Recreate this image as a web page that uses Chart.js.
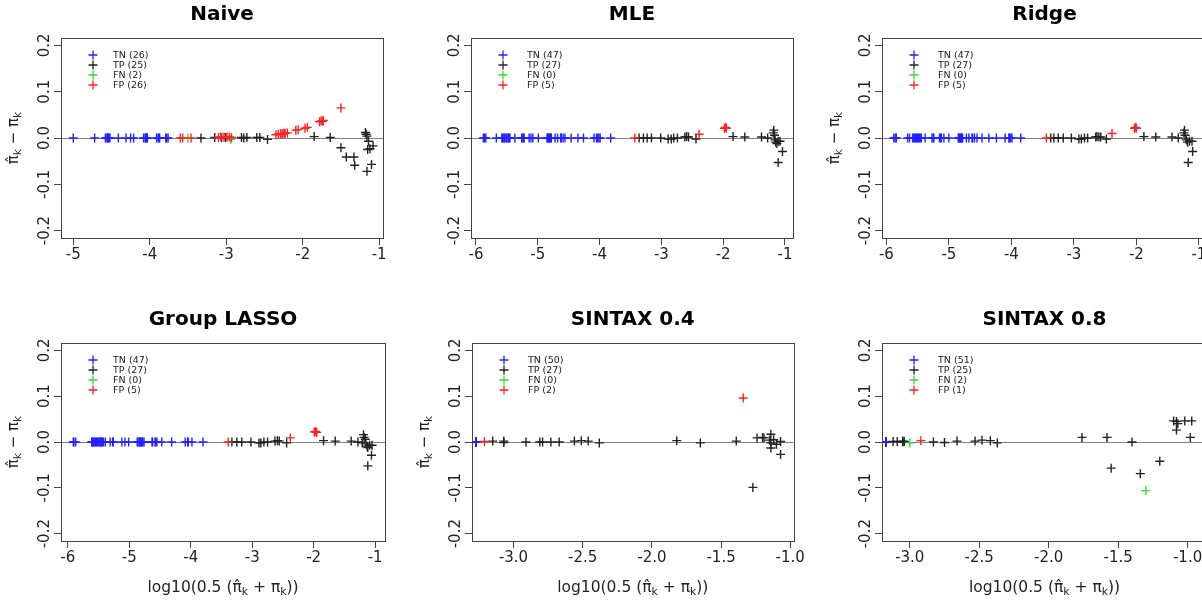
<!DOCTYPE html>
<html>
<head>
<meta charset="utf-8">
<script src="https://cdn.jsdelivr.net/npm/chart.js@4.4.0/dist/chart.umd.min.js"></script>
<style>
html,body{margin:0;padding:0;background:#fff;overflow:hidden;width:1202px;height:600px;position:relative;}
canvas{position:absolute;}
</style>
</head>
<body>
<script>
// ---- data: [log10(0.5(pihat+pi)), pihat - pi] per class ----
var naiveTN = [[-5.00,0],[-4.72,0],[-4.58,0],[-4.56,0],[-4.55,0],[-4.54,0],[-4.53,0],[-4.52,0],[-4.41,0],[-4.31,0],[-4.25,0],[-4.21,0],[-4.08,0],
  [-4.06,0],[-4.05,0],[-4.04,0],[-4.03,0],[-3.91,0],[-3.89,0],[-3.88,0],[-3.87,0],[-3.79,0],[-3.78,0],[-3.76,0],[-4.55,0],[-4.05,0]];
var naiveTP = [[-3.33,0],[-3.15,0.001],[-3.06,0.001],[-3.01,0.001],[-2.80,0.001],[-2.77,0],[-2.73,0.001],[-2.60,0.001],[-2.56,0.001],
  [-2.46,-0.003],[-1.85,0.003],[-1.64,0.001],[-1.50,-0.021],[-1.43,-0.041],[-1.33,-0.041],[-1.32,-0.059],[-1.18,0.012],[-1.17,0.008],
  [-1.16,0.004],[-1.14,-0.007],[-1.15,-0.025],[-1.12,-0.023],[-1.08,-0.017],[-1.10,-0.057],[-1.16,-0.072]];
var naiveFN = [[-3.50,0],[-2.94,-0.003]];
var naiveFP = [[-3.60,0],[-3.57,0],[-3.46,0],[-3.10,0.001],[-3.07,0.002],[-3.03,0.002],[-2.99,0.002],[-2.96,0.002],[-2.93,0.001],
  [-2.35,0.007],[-2.32,0.008],[-2.29,0.009],[-2.27,0.009],[-2.26,0.009],[-2.24,0.010],[-2.23,0.010],[-2.20,0.011],[-2.09,0.017],
  [-2.06,0.018],[-1.97,0.021],[-1.94,0.023],[-1.78,0.035],[-1.76,0.037],[-1.74,0.036],[-1.73,0.038],[-1.50,0.065]];
var naiveCounts = [26, 25, 2, 26];

var mleTN = [[-5.88,0],[-5.84,0],[-5.67,0],[-5.58,0],[-5.56,0],[-5.53,0],[-5.50,0],[-5.48,0],[-5.45,0],[-5.37,0],[-5.26,0],[-5.23,0],
  [-5.14,0],[-5.11,0],[-5.08,0],[-4.99,0],[-4.85,0],[-4.82,0],[-4.79,0],[-4.72,0],[-4.68,0],[-4.63,0],[-4.59,0],[-4.56,0],[-4.46,0],
  [-4.35,0],[-4.26,0],[-4.09,0],[-4.05,0],[-4.01,0],[-3.82,0],[-5.54,0],[-5.51,0],[-5.47,0],[-5.46,0],[-4.83,0],[-4.81,0],[-4.80,0],
  [-4.78,0],[-5.24,0],[-4.62,0],[-4.03,0],[-3.99,0],[-5.86,0],[-5.57,0],[-5.22,0],[-4.84,0]];
var mleTP = [[-3.36,0],[-3.29,0],[-3.23,0],[-3.16,0],[-3.01,0],[-2.89,-0.002],[-2.84,-0.002],[-2.80,0],[-2.74,0],[-2.62,0.002],
  [-2.59,0.003],[-2.56,0.002],[-2.44,-0.002],[-1.84,0.003],[-1.65,0.002],[-1.38,0.002],[-1.28,0],[-1.19,0.011],[-1.18,0.017],
  [-1.17,0.006],[-1.16,-0.004],[-1.15,-0.009],[-1.13,-0.012],[-1.11,-0.007],[-1.08,-0.007],[-1.04,-0.029],[-1.11,-0.053]];
var mleFN = [];
var mleFP = [[-3.43,0],[-2.39,0.008],[-1.98,0.021],[-1.96,0.023],[-1.95,0.021]];
var mleCounts = [47, 27, 0, 5];

var ridgeTN = [[-5.88,0],[-5.84,0],[-5.66,0],[-5.63,0],[-5.58,0],[-5.55,0],[-5.52,0],[-5.49,0],[-5.47,0],[-5.44,0],[-5.38,0],[-5.27,0],
  [-5.24,0],[-5.15,0],[-5.12,0],[-5.08,0],[-5.00,0],[-4.84,0],[-4.82,0],[-4.79,0],[-4.72,0],[-4.68,0],[-4.63,0],[-4.59,0],[-4.55,0],
  [-4.47,0],[-4.36,0],[-4.24,0],[-4.10,0],[-4.04,0],[-4.01,0],[-3.85,0],[-5.56,0],[-5.53,0],[-5.50,0],[-5.46,0],[-4.83,0],[-4.81,0],
  [-4.80,0],[-4.78,0],[-5.25,0],[-4.62,0],[-4.03,0],[-3.99,0],[-5.86,0],[-5.13,0],[-4.85,0]];
var ridgeTP = [[-3.37,0],[-3.32,0],[-3.25,0],[-3.17,0],[-3.04,0],[-2.92,-0.002],[-2.88,-0.002],[-2.83,0],[-2.78,0],[-2.65,0.002],
  [-2.63,0.003],[-2.60,0.002],[-2.57,0.002],[-2.48,-0.002],[-1.88,0.003],[-1.69,0.002],[-1.43,0.002],[-1.33,0],[-1.24,0.011],
  [-1.23,0.017],[-1.22,0.006],[-1.20,-0.004],[-1.18,-0.009],[-1.15,-0.007],[-1.11,-0.007],[-1.10,-0.029],[-1.17,-0.053]];
var ridgeFN = [];
var ridgeFP = [[-3.44,0],[-2.39,0.0096],[-2.03,0.021],[-2.01,0.023],[-2.00,0.021]];
var ridgeCounts = [47, 27, 0, 5];

var glassoTN = [[-5.91,0],[-5.87,0],[-5.61,0],[-5.58,0],[-5.56,0],[-5.53,0],[-5.50,0],[-5.47,0],[-5.45,0],[-5.42,0],[-5.39,0],[-5.31,0],
  [-5.26,0],[-5.12,0],[-5.07,0],[-5.01,0],[-4.87,0],[-4.84,0],[-4.81,0],[-4.79,0],[-4.76,0],[-4.63,0],[-4.58,0],[-4.55,0],[-4.47,0],
  [-4.31,0],[-4.09,0],[-4.04,0],[-3.98,0],[-3.80,0],[-5.59,0],[-5.55,0],[-5.52,0],[-5.49,0],[-5.46,0],[-5.44,0],[-4.86,0],[-4.83,0],
  [-4.80,0],[-4.78,0],[-5.27,0],[-4.62,0],[-4.57,0],[-4.05,0],[-5.90,0],[-5.60,0],[-4.82,0]];
var glassoTP = [[-3.33,0],[-3.25,0],[-3.17,0],[-3.02,0],[-2.89,-0.002],[-2.86,-0.002],[-2.81,0],[-2.75,0],[-2.63,0.002],[-2.59,0.003],
  [-2.56,0.002],[-2.44,-0.002],[-1.84,0.003],[-1.65,0.002],[-1.39,0.002],[-1.28,0],[-1.19,0.016],[-1.18,0.010],[-1.16,0.006],
  [-1.15,-0.004],[-1.13,-0.009],[-1.09,-0.007],[-1.05,-0.007],[-1.12,-0.012],[-1.06,-0.029],[-1.12,-0.052],[-1.21,-0.002]];
var glassoFN = [];
var glassoFP = [[-3.39,0],[-2.38,0.009],[-1.99,0.022],[-1.97,0.023],[-1.95,0.021]];
var glassoCounts = [47, 27, 0, 5];

var sintax4TN = [[-3.27,0],[-3.27,0],[-3.27,0],[-3.27,0],[-3.27,0],[-3.27,0],[-3.27,0],[-3.27,0],[-3.27,0],[-3.27,0],
  [-3.27,0],[-3.27,0],[-3.27,0],[-3.27,0],[-3.27,0],[-3.27,0],[-3.27,0],[-3.27,0],[-3.27,0],[-3.27,0],
  [-3.27,0],[-3.27,0],[-3.27,0],[-3.27,0],[-3.27,0],[-3.27,0],[-3.27,0],[-3.27,0],[-3.27,0],[-3.27,0],
  [-3.27,0],[-3.27,0],[-3.27,0],[-3.27,0],[-3.27,0],[-3.27,0],[-3.27,0],[-3.27,0],[-3.27,0],[-3.27,0],
  [-3.27,0],[-3.27,0],[-3.27,0],[-3.27,0],[-3.27,0],[-3.27,0],[-3.27,0],[-3.27,0],[-3.27,0],[-3.27,0]];
var sintax4TP = [[-3.15,0.002],[-3.07,0.002],[-3.07,-0.001],[-2.91,0],[-2.81,0],[-2.79,0],[-2.73,0],[-2.67,0],[-2.56,0.002],
  [-2.51,0.003],[-2.46,0.002],[-2.38,-0.002],[-1.82,0.003],[-1.65,-0.002],[-1.39,0.002],[-1.27,-0.099],[-1.24,0.009],[-1.20,0.010],
  [-1.19,0.009],[-1.14,0.017],[-1.15,0.004],[-1.12,0.005],[-1.14,-0.002],[-1.10,-0.005],[-1.07,0.001],[-1.14,-0.013],[-1.07,-0.027]];
var sintax4FN = [];
var sintax4FP = [[-3.21,0.001],[-1.34,0.096]];
var sintax4Counts = [50, 27, 0, 2];

var sintax8TN = [[-3.17,0],[-3.17,0],[-3.17,0],[-3.17,0],[-3.17,0],[-3.17,0],[-3.17,0],[-3.17,0],[-3.17,0],[-3.17,0],
  [-3.17,0],[-3.17,0],[-3.17,0],[-3.17,0],[-3.17,0],[-3.17,0],[-3.17,0],[-3.17,0],[-3.17,0],[-3.17,0],
  [-3.17,0],[-3.17,0],[-3.17,0],[-3.17,0],[-3.17,0],[-3.17,0],[-3.17,0],[-3.17,0],[-3.17,0],[-3.17,0],
  [-3.17,0],[-3.17,0],[-3.17,0],[-3.17,0],[-3.17,0],[-3.17,0],[-3.17,0],[-3.17,0],[-3.17,0],[-3.17,0],
  [-3.17,0],[-3.17,0],[-3.17,0],[-3.17,0],[-3.17,0],[-3.17,0],[-3.17,0],[-3.17,0],[-3.17,0],[-3.17,0],[-3.17,0]];
var sintax8TP = [[-3.12,0.001],[-3.09,0.001],[-3.05,0.002],[-3.05,0],[-3.04,0.001],[-2.83,0],[-2.75,-0.001],[-2.66,0.002],
  [-2.53,0.002],[-2.48,0.004],[-2.42,0.003],[-2.37,-0.002],[-1.76,0.010],[-1.58,0.010],[-1.40,0],[-1.55,-0.057],[-1.34,-0.069],
  [-1.20,-0.042],[-1.10,0.046],[-1.08,0.045],[-1.07,0.040],[-1.08,0.026],[-1.02,0.046],[-0.97,0.046],[-0.98,0.010]];
var sintax8FN = [[-3.00,-0.002],[-1.30,-0.106]];
var sintax8FP = [[-2.92,0.003]];
var sintax8Counts = [51, 25, 2, 1];

var classLabels = ["TN", "TP", "FN", "FP"];
var classColors = ["#2222ff", "#222222", "#33dd33", "#ff2222"];
var ticksWide = [-6, -5, -4, -3, -2, -1];
var ticksNaive = [-5, -4, -3, -2, -1];
var ticksSintax = [-3.0, -2.5, -2.0, -1.5, -1.0];
var yTicks = [-0.2, -0.1, 0.0, 0.1, 0.2];

// ---- layout of the 2x3 grid ----
var panels = [
  {title:"Naive", sets:[naiveTN,naiveTP,naiveFN,naiveFP], counts:naiveCounts, ticks:ticksNaive, dec:0,
   box:{l:61,t:38,w:322,h:200}, xmin:-5.16, xmax:-0.95, ylab:true, xlab:false, legDx:52},
  {title:"MLE", sets:[mleTN,mleTP,mleFN,mleFP], counts:mleCounts, ticks:ticksWide, dec:0,
   box:{l:471,t:38,w:322,h:200}, xmin:-6.08, xmax:-0.87, ylab:false, xlab:false, legDx:56},
  {title:"Ridge", sets:[ridgeTN,ridgeTP,ridgeFN,ridgeFP], counts:ridgeCounts, ticks:ticksWide, dec:0,
   box:{l:882,t:38,w:325,h:200}, xmin:-6.07, xmax:-0.87, ylab:true, xlab:false, legDx:56},
  {title:"Group LASSO", sets:[glassoTN,glassoTP,glassoFN,glassoFP], counts:glassoCounts, ticks:ticksWide, dec:0,
   box:{l:61,t:343,w:324,h:198}, xmin:-6.11, xmax:-0.84, ylab:true, xlab:true, legDx:52},
  {title:"SINTAX 0.4", sets:[sintax4TN,sintax4TP,sintax4FN,sintax4FP], counts:sintax4Counts, ticks:ticksSintax, dec:1,
   box:{l:472,t:343,w:322,h:198}, xmin:-3.30, xmax:-0.976, ylab:true, xlab:true, legDx:56},
  {title:"SINTAX 0.8", sets:[sintax8TN,sintax8TP,sintax8FN,sintax8FP], counts:sintax8Counts, ticks:ticksSintax, dec:1,
   box:{l:882,t:343,w:325,h:198}, xmin:-3.20, xmax:-0.86, ylab:false, xlab:true, legDx:56}
];

var FONT = "'DejaVu Sans', sans-serif";
var INK = "#222";
var PADTOP = 38, PADLEFT = 61, PADRIGHT = 12, PADBOTTOM = 62;

// text with subscript k parts
function richText(ctx, parts, size) {
  var w = 0;
  parts.forEach(function(p) {
    ctx.font = (p.sub ? size * 0.7 : size) + "px " + FONT;
    p.w = ctx.measureText(p.t).width;
    w += p.w;
  });
  var x = -w / 2;
  parts.forEach(function(p) {
    ctx.font = (p.sub ? size * 0.7 : size) + "px " + FONT;
    ctx.fillText(p.t, x, p.sub ? size * 0.28 : 0);
    x += p.w;
  });
}
var yLabParts = [{t:"\u03c0\u0302"},{t:"k",sub:true},{t:" \u2212 \u03c0"},{t:"k",sub:true}];
var xLabParts = [{t:"log10(0.5 (\u03c0\u0302"},{t:"k",sub:true},{t:" + \u03c0"},{t:"k",sub:true},{t:"))"}];

var decor = {
  id: "decor",
  beforeDatasetsDraw: function(chart) {
    var ctx = chart.ctx, a = chart.chartArea, y0 = Math.round(chart.scales.y.getPixelForValue(0)) + 0.5;
    ctx.save();
    ctx.strokeStyle = "#808080";
    ctx.lineWidth = 1.2;
    ctx.beginPath();
    ctx.moveTo(a.left, y0);
    ctx.lineTo(a.right, y0);
    ctx.stroke();
    ctx.restore();
  },
  afterDraw: function(chart) {
    var p = chart.options.plugins.decor.panel;
    var ctx = chart.ctx, a = chart.chartArea, ys = chart.scales.y;
    ctx.save();
    // box
    ctx.strokeStyle = "#444";
    ctx.lineWidth = 1;
    ctx.strokeRect(Math.round(a.left) + 0.5, Math.round(a.top) + 0.5, Math.round(a.right - a.left), Math.round(a.bottom - a.top));
    // rotated y tick labels
    ctx.fillStyle = INK;
    ctx.font = "15px " + FONT;
    ctx.textAlign = "center";
    ctx.textBaseline = "middle";
    yTicks.forEach(function(v) {
      ctx.save();
      ctx.translate(a.left - 16, ys.getPixelForValue(v));
      ctx.rotate(-Math.PI / 2);
      ctx.fillText(v.toFixed(1), 0, 0);
      ctx.restore();
    });
    // title
    var cx = (a.left + a.right) / 2;
    ctx.font = "bold 20px " + FONT;
    ctx.fillStyle = "#000";
    ctx.fillText(p.title, cx, a.top - 23);
    // axis labels
    ctx.fillStyle = INK;
    ctx.textAlign = "left";
    if (p.ylab) {
      ctx.save();
      ctx.translate(a.left - 47, (a.top + a.bottom) / 2);
      ctx.rotate(-Math.PI / 2);
      richText(ctx, yLabParts, 15);
      ctx.restore();
    }
    if (p.xlab) {
      ctx.save();
      ctx.translate(cx, a.bottom + 47);
      richText(ctx, xLabParts, 15.5);
      ctx.restore();
    }
    // legend
    ctx.font = "9.5px " + FONT;
    ctx.textBaseline = "middle";
    classLabels.forEach(function(lab, i) {
      var ly = a.top + 17 + i * 10, lx = a.left + 32;
      ctx.strokeStyle = classColors[i];
      ctx.lineWidth = 1.3;
      ctx.beginPath();
      ctx.moveTo(lx - 4.5, ly); ctx.lineTo(lx + 4.5, ly);
      ctx.moveTo(lx, ly - 4.5); ctx.lineTo(lx, ly + 4.5);
      ctx.stroke();
      ctx.fillStyle = INK;
      ctx.fillText(lab + " (" + p.counts[i] + ")", a.left + p.legDx, ly + 0.5);
    });
    ctx.restore();
  }
};

panels.forEach(function(p) {
  var cv = document.createElement("canvas");
  var cw = PADLEFT + p.box.w + PADRIGHT, ch = PADTOP + p.box.h + PADBOTTOM;
  cv.width = cw; cv.height = ch;
  cv.style.left = (p.box.l - PADLEFT) + "px";
  cv.style.top = (p.box.t - PADTOP) + "px";
  cv.style.width = cw + "px"; cv.style.height = ch + "px";
  document.body.appendChild(cv);

  new Chart(cv, {
    type: "scatter",
    data: {
      datasets: p.sets.map(function(pts, i) {
        return {
          label: classLabels[i],
          data: pts.map(function(d) { return {x: d[0], y: d[1]}; }),
          pointStyle: "cross",
          pointRadius: 4.5,
          pointBorderWidth: 1.4,
          borderColor: classColors[i],
          backgroundColor: classColors[i],
          order: 3 - i
        };
      })
    },
    options: {
      responsive: false,
      animation: false,
      devicePixelRatio: 1,
      layout: {padding: {left: 0, top: PADTOP, right: PADRIGHT, bottom: 0}},
      plugins: {legend: {display: false}, tooltip: {enabled: false}, decor: {panel: p}},
      scales: {
        x: {
          type: "linear", min: p.xmin, max: p.xmax,
          afterBuildTicks: function(s) { s.ticks = p.ticks.map(function(v) { return {value: v}; }); },
          ticks: {font: {family: FONT, size: 15}, color: INK, padding: 1, maxRotation: 0,
                  callback: function(v) { return Number(v).toFixed(p.dec); }},
          grid: {drawOnChartArea: false, drawTicks: true, tickLength: 7, color: "#444"},
          border: {display: false},
          afterFit: function(s) { s.height = PADBOTTOM; }
        },
        y: {
          type: "linear", min: -0.216, max: 0.216,
          afterBuildTicks: function(s) { s.ticks = yTicks.map(function(v) { return {value: v}; }); },
          ticks: {display: false},
          grid: {drawOnChartArea: false, drawTicks: true, tickLength: 7, color: "#444"},
          border: {display: false},
          afterFit: function(s) { s.width = PADLEFT; }
        }
      }
    },
    plugins: [decor]
  });
});
</script>
</body>
</html>
